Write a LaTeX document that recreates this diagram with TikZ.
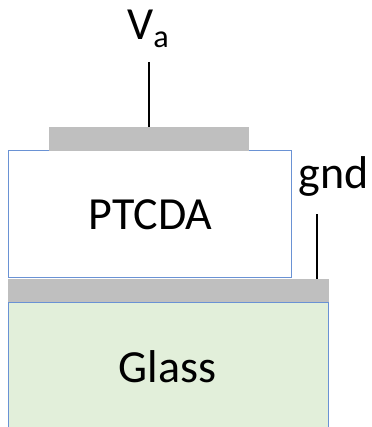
\documentclass[tikz,border=0pt]{standalone}
\usepackage{fontspec}
\setmainfont{Carlito}
\definecolor{elgray}{HTML}{BFBFBF}
\definecolor{edgeblue}{HTML}{6A92D4}
\definecolor{glassgreen}{HTML}{E2EFDA}
\tikzset{
  electrode/.style={fill=elgray, draw=none, inner sep=0pt},
  layer/.style={draw=edgeblue, line width=1pt, inner sep=0pt},
  wire/.style={line width=1.8pt, black},
  lbl/.style={inner sep=0pt, anchor=base, font=\fontsize{46}{55}\selectfont}
}
\begin{document}
\begin{tikzpicture}[x=1pt, y=-1pt]
\useasboundingbox (0,0) rectangle (371,427);
\clip (0,0) rectangle (371,427);
\fill[white] (0,0) rectangle (371,427);
% glass substrate
\node[layer, fill=glassgreen, minimum width=320pt, minimum height=150pt] (glass) at (168,377) {};
% bottom electrode
\node[electrode, minimum width=321pt, minimum height=23pt] (botel) at (168.5,290.5) {};
% PTCDA layer
\node[layer, fill=white, minimum width=283pt, minimum height=126pt] (ptcda) at (149.5,214) {};
% top electrode
\node[electrode, minimum width=200pt, minimum height=24pt] (topel) at (148.5,139) {};
% labels
\node[lbl] (ptcdatext) at (150.5,229) {PTCDA};
\node[lbl] (glasstext) at (167.5,382) {Glass};
\node[lbl] (gndtext) at (333.5,189) {gnd};
\node[lbl, anchor=base west] (vatext) at (127,40) {V\textsubscript{a}};
% wires
\coordinate (vatop) at (149,62);
\coordinate (gndtop) at (317,214);
\draw[wire] (vatop) -- (vatop |- topel.north);
\draw[wire] (gndtop) -- (gndtop |- botel.north);
\end{tikzpicture}
\end{document}
